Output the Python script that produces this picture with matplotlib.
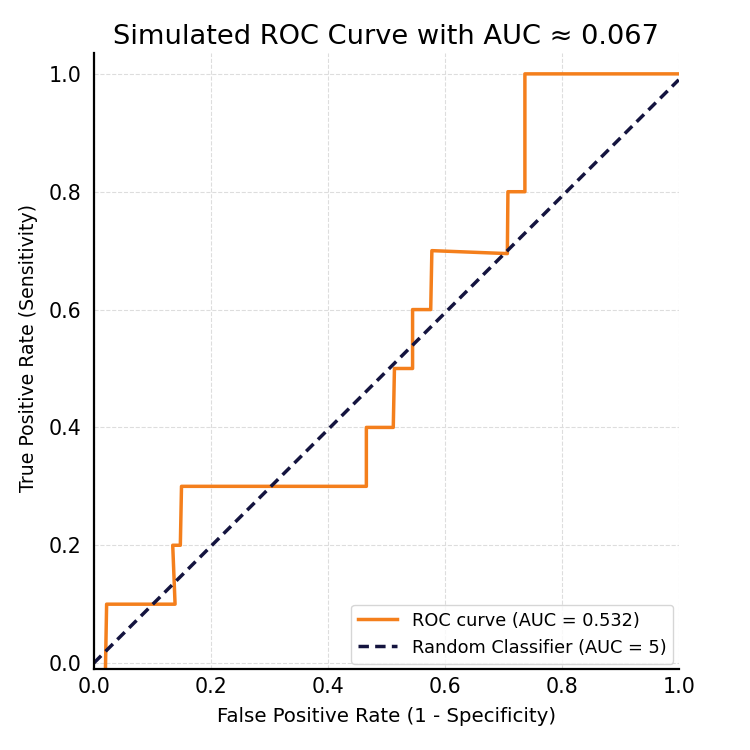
import matplotlib
matplotlib.use("Agg")
from matplotlib import pyplot as plt

# ROC curve points
fpr = [0.020, 0.022, 0.022, 0.139, 0.135, 0.148, 0.150, 0.466, 0.466,
       0.512, 0.514, 0.545, 0.545, 0.576, 0.578, 0.707, 0.708, 0.737, 0.737, 1.0]
tpr = [-0.01, 0.10, 0.10, 0.10, 0.20, 0.20, 0.30, 0.30, 0.40,
       0.40, 0.50, 0.50, 0.60, 0.60, 0.70, 0.695, 0.80, 0.80, 1.00, 1.00]
diag_x = [0.0, 1.0]
diag_y = [0.0, 0.99]

roc_label = "ROC curve (AUC = 0.532)"
rand_label = "Random Classifier (AUC = 5)"
title = "Simulated ROC Curve with AUC \u2248 0.067"

fig = plt.figure(figsize=(7.5, 7.5), dpi=100)
ax = fig.add_axes([0.125, 0.108, 0.78, 0.821])

ax.plot(fpr, tpr, color="#f47f1c", lw=2.5, label=roc_label)
ax.plot(diag_x, diag_y, color="#14143f", lw=2.5, ls=(0, (3, 1.8)), label=rand_label)

ax.set_xlim(0, 1)
ax.set_ylim(-0.01, 1.035)
ax.set_xticks([0, 0.2, 0.4, 0.6, 0.8, 1.0])
ax.set_yticks([0, 0.2, 0.4, 0.6, 0.8, 1.0])
ax.tick_params(length=0, labelsize=14.8)
ax.tick_params(axis="x", pad=6)
ax.tick_params(axis="y", pad=9)
ax.grid(True, ls="--", color="#dddddd", lw=0.8)
for side in ["top", "right"]:
    ax.spines[side].set_visible(False)
for side in ["left", "bottom"]:
    ax.spines[side].set_linewidth(1.6)

ax.set_xlabel("False Positive Rate (1 - Specificity)", fontsize=14.2, labelpad=7)
ax.set_ylabel("True Positive Rate (Sensitivity)", fontsize=13.6)
ax.yaxis.set_label_coords(-0.095, 0.521)
ax.set_title(title, fontsize=19.6, pad=7)
ax.legend(loc="lower right", fontsize=12.8, handlelength=2.2, borderaxespad=0.3)

fig.savefig("out.png")
